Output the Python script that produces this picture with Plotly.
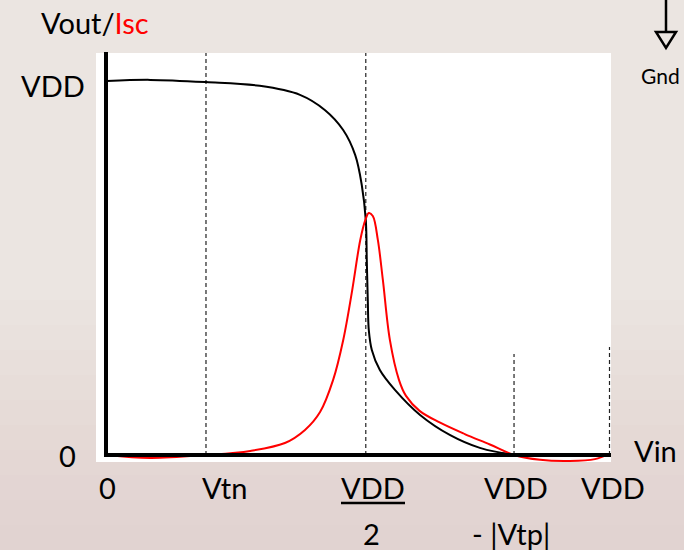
import plotly.graph_objects as go

# ---- data (x: 0..100 = 0..VDD, y: 0..100 = 0..VDD) ----
vout_x = [0, 8.6, 19.7, 30.4, 38.4, 43.4, 47.0, 49.4, 50.7, 51.5, 51.7, 51.9, 52.1, 52.7, 54.3, 57.3, 62.3, 68.3, 74.2, 80.2, 90.1, 100]
vout_y = [100, 100.3, 99.7, 98.7, 96.3, 92.2, 86.9, 80.2, 72.2, 62.8, 52.1, 41.4, 33.4, 28.1, 22.7, 17.4, 10.7, 5.3, 1.9, 0.3, 0, 0]

isc_x = [0, 8.6, 19.7, 28.5, 35.4, 39.4, 42.4, 45.0, 47.0, 48.8, 50.4, 51.4, 52.1, 52.9, 53.9, 54.9, 56.3, 58.1, 59.5, 62.2, 66.2, 71.2, 76.2, 81.0, 86.2, 92.1, 97.1, 100]
isc_y = [0, -0.8, 0, 1.1, 3.2, 6.7, 11.5, 20.1, 30.7, 44.1, 57.5, 62.8, 64.7, 63.9, 57.5, 46.8, 30.7, 20.1, 15.8, 11.8, 8.7, 5.6, 2.8, 0, -1.3, -1.6, -1.1, 0.3]

marker_x = [19.7, 51.5, 81.0, 100]          # Vtn, VDD/2, VDD-|Vtp|, VDD
marker_top = [107.5, 107.5, 27.0, 28.9]

x_tick_labels = ["0", "Vtn", "VDD", "VDD", "VDD"]
x_tick_pos = [0, 23.4, 52.9, 81.4, 100.6]

# pixel <-> data helpers (figure is 684x550, zero margins)
X0, XS = 107.0, 5.025
Y0, YS = 455.0, 3.74
def dx(px): return (px - X0) / XS
def dy(py): return (Y0 - py) / YS

FONT = "Lato"
fig = go.Figure()

shapes = []
# soft background gradient (warmer toward the bottom)
for i in range(11):
    top = 300 + i * 25
    shapes.append(dict(type="rect", xref="x", yref="y", x0=dx(0), x1=dx(684), y0=dy(550), y1=dy(top),
                       fillcolor="rgba(205,180,160,0.025)", line_width=0, layer="below"))
# white plot panel
shapes.append(dict(type="rect", xref="x", yref="y", x0=dx(96), x1=dx(611), y0=dy(462), y1=dy(53),
                   fillcolor="white", line_width=0, layer="below"))
# dashed markers
for mx, mt in zip(marker_x, marker_top):
    shapes.append(dict(type="line", xref="x", yref="y", x0=mx, x1=mx, y0=0, y1=mt,
                       line=dict(color="#222", width=1.2, dash="4px,3px"), layer="below"))
# axes
shapes.append(dict(type="line", xref="x", yref="y", x0=-0.2, x1=-0.2, y0=-0.5, y1=dy(52),
                   line=dict(color="black", width=4)))
shapes.append(dict(type="line", xref="x", yref="y", x0=-0.6, x1=dx(611), y0=0, y1=0,
                   line=dict(color="black", width=4)))
# underline of VDD/2
shapes.append(dict(type="line", xref="x", yref="y", x0=dx(341), x1=dx(405), y0=dy(503), y1=dy(503),
                   line=dict(color="black", width=2.5)))
# Gnd arrow
shapes.append(dict(type="line", xref="x", yref="y", x0=dx(666), x1=dx(666), y0=dy(0), y1=dy(31),
                   line=dict(color="black", width=2.5)))
shapes.append(dict(type="path", xref="x", yref="y",
                   path=f"M {dx(656)},{dy(32)} L {dx(676)},{dy(32)} L {dx(666)},{dy(48)} Z",
                   line=dict(color="black", width=2.5), fillcolor="rgba(0,0,0,0)"))

fig.add_trace(go.Scatter(x=vout_x, y=vout_y, mode="lines", line=dict(color="black", width=2, shape="spline"),
                         hoverinfo="skip"))
fig.add_trace(go.Scatter(x=isc_x, y=isc_y, mode="lines", line=dict(color="#ff0000", width=2, shape="spline"),
                         hoverinfo="skip"))

ann = []
def txt(s, px, py, size=29, xanchor="center", color="black"):
    ann.append(dict(text=s, x=dx(px), y=dy(py), xref="x", yref="y", showarrow=False,
                    xanchor=xanchor, yanchor="middle", font=dict(family=FONT, size=size, color=color)))

txt("Vout/<span style='color:#ff0000'>Isc</span>", 39, 22, xanchor="left")
txt("VDD", 87, 85, xanchor="right")
txt("0", 67, 455)
txt("Vin", 632, 450, xanchor="left")
for lab, xp in zip(x_tick_labels, x_tick_pos):
    ann.append(dict(text=lab, x=xp, y=dy(487), xref="x", yref="y", showarrow=False,
                    xanchor="center", yanchor="middle", font=dict(family=FONT, size=29, color="black")))
txt("2", 371, 533)
txt("- |Vtp|", 511, 533)
txt("Gnd", 639, 75, size=21, xanchor="left")

fig.update_layout(
    width=684, height=550, margin=dict(l=0, r=0, t=0, b=0),
    paper_bgcolor="#ebe5e1", plot_bgcolor="rgba(0,0,0,0)",
    showlegend=False, shapes=shapes, annotations=ann,
    xaxis=dict(range=[dx(0), dx(684)], visible=False, fixedrange=True),
    yaxis=dict(range=[dy(550), dy(0)], visible=False, fixedrange=True),
)
fig.write_html("out.html", config={"displayModeBar": False},
               post_script="document.body.style.margin='0';document.body.style.overflow='hidden';")
